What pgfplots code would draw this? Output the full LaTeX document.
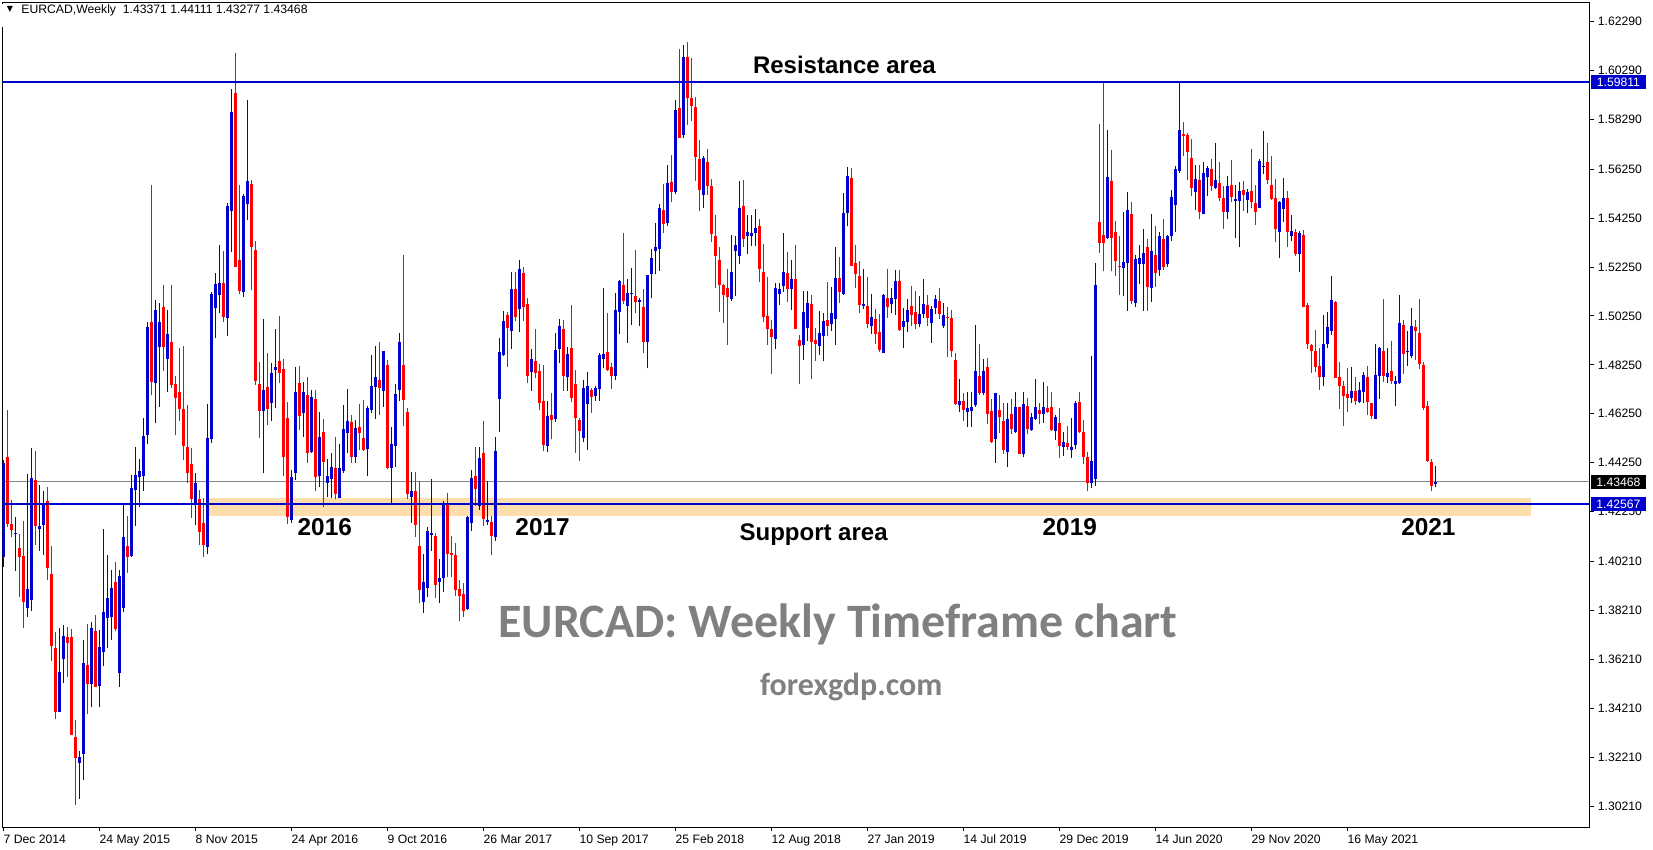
\documentclass[border=0pt]{standalone}
\usepackage{pgfplots}
\pgfplotsset{compat=1.18}
\usepackage{pgfplotstable}
\usepackage{fontspec}
\setmainfont{Liberation Sans}
\newfontfamily\carlito{Carlito}
\newfontfamily\dejavu{DejaVu Sans}
\definecolor{cblue}{RGB}{0,0,204}
\definecolor{cred}{RGB}{255,0,0}
\definecolor{band}{RGB}{255,222,173}
\definecolor{pline}{RGB}{128,138,148}
\definecolor{wm}{RGB}{128,128,128}
\newcommand\sm{\fontsize{6.1}{7}\selectfont}

% weekly EURCAD candles, i = week number from 7 Dec 2014
\pgfplotstableread{
i o h l c
0 1.4041 1.4436 1.4000 1.4425
1 1.4447 1.4640 1.4163 1.4174
2 1.4174 1.4272 1.4120 1.4150
3 1.4133 1.4204 1.3983 1.4139
4 1.4076 1.4133 1.3877 1.4041
5 1.4043 1.4186 1.3748 1.3857
6 1.3832 1.4379 1.3795 1.3907
7 1.3863 1.4484 1.3820 1.4361
8 1.4354 1.4474 1.4090 1.4166
9 1.4155 1.4332 1.4065 1.4166
10 1.4170 1.4309 1.4047 1.4251
11 1.4267 1.4324 1.3945 1.3996
12 1.3972 1.4084 1.3615 1.3677
13 1.3666 1.3731 1.3377 1.3407
14 1.3407 1.3748 1.3407 1.3570
15 1.3621 1.3761 1.3523 1.3718
16 1.3714 1.3754 1.3550 1.3689
17 1.3711 1.3744 1.3313 1.3313
18 1.3302 1.3373 1.3025 1.3219
19 1.3198 1.3247 1.3052 1.3223
20 1.3236 1.3700 1.3127 1.3608
21 1.3598 1.3764 1.3396 1.3519
22 1.3519 1.3772 1.3425 1.3748
23 1.3738 1.3801 1.3509 1.3509
24 1.3513 1.3741 1.3425 1.3673
25 1.3652 1.4156 1.3595 1.3813
26 1.3791 1.4047 1.3666 1.3872
27 1.3795 1.3986 1.3700 1.3913
28 1.3937 1.4019 1.3735 1.3746
29 1.3566 1.3986 1.3509 1.3962
30 1.3832 1.4252 1.3816 1.4120
31 1.4084 1.4207 1.3975 1.4041
32 1.4043 1.4375 1.4041 1.4320
33 1.4313 1.4488 1.4166 1.4375
34 1.4365 1.4441 1.4245 1.4390
35 1.4370 1.4608 1.4310 1.4534
36 1.4538 1.5000 1.4500 1.4980
37 1.5000 1.5560 1.4700 1.4756
38 1.4750 1.5090 1.4586 1.5050
39 1.4900 1.5080 1.4654 1.5000
40 1.5060 1.5150 1.4800 1.4900
41 1.4850 1.5050 1.4715 1.4950
42 1.4920 1.5151 1.4729 1.4742
43 1.4746 1.4779 1.4538 1.4690
44 1.4715 1.4896 1.4595 1.4643
45 1.4644 1.4903 1.4438 1.4493
46 1.4490 1.4661 1.4340 1.4384
47 1.4419 1.4487 1.4200 1.4275
48 1.4261 1.4384 1.4170 1.4340
49 1.4275 1.4313 1.4090 1.4140
50 1.4180 1.4279 1.4040 1.4090
51 1.4080 1.4667 1.4050 1.4524
52 1.4521 1.5121 1.4504 1.5114
53 1.5056 1.5199 1.4936 1.5155
54 1.5110 1.5315 1.5038 1.5161
55 1.5158 1.5292 1.5001 1.5019
56 1.5015 1.5488 1.4944 1.5474
57 1.5455 1.5953 1.5288 1.5860
58 1.5938 1.6101 1.5226 1.5226
59 1.5253 1.5560 1.5114 1.5128
60 1.5121 1.5523 1.5104 1.5516
61 1.5481 1.5908 1.5417 1.5576
62 1.5564 1.5581 1.5131 1.5308
63 1.5294 1.5331 1.4742 1.4760
64 1.4746 1.4838 1.4524 1.4637
65 1.4637 1.5012 1.4381 1.4722
66 1.4733 1.4875 1.4579 1.4644
67 1.4670 1.4834 1.4596 1.4793
68 1.4804 1.4971 1.4647 1.4815
69 1.4840 1.5024 1.4752 1.4793
70 1.4808 1.4851 1.4370 1.4449
71 1.4606 1.4674 1.4175 1.4204
72 1.4190 1.4395 1.4180 1.4365
73 1.4381 1.4817 1.4354 1.4715
74 1.4752 1.4821 1.4558 1.4617
75 1.4629 1.4753 1.4531 1.4715
76 1.4701 1.4776 1.4425 1.4463
77 1.4470 1.4722 1.4466 1.4695
78 1.4685 1.4722 1.4310 1.4368
79 1.4372 1.4633 1.4327 1.4531
80 1.4549 1.4603 1.4245 1.4429
81 1.4340 1.4442 1.4286 1.4372
82 1.4357 1.4463 1.4279 1.4408
83 1.4402 1.4531 1.4275 1.4299
84 1.4279 1.4501 1.4279 1.4404
85 1.4392 1.4661 1.4384 1.4562
86 1.4545 1.4726 1.4466 1.4595
87 1.4590 1.4620 1.4422 1.4449
88 1.4449 1.4599 1.4422 1.4565
89 1.4569 1.4667 1.4477 1.4547
90 1.4527 1.4681 1.4474 1.4479
91 1.4480 1.4655 1.4371 1.4648
92 1.4641 1.4866 1.4627 1.4739
93 1.4736 1.4904 1.4604 1.4777
94 1.4763 1.4917 1.4620 1.4732
95 1.4720 1.4883 1.4654 1.4883
96 1.4825 1.4845 1.4398 1.4405
97 1.4405 1.4573 1.4255 1.4502
98 1.4495 1.4746 1.4409 1.4706
99 1.4723 1.4954 1.4679 1.4920
100 1.4825 1.5275 1.4577 1.4682
101 1.4631 1.4648 1.4275 1.4297
102 1.4286 1.4389 1.4180 1.4310
103 1.4310 1.4387 1.4120 1.4171
104 1.4086 1.4352 1.3853 1.3905
105 1.3857 1.4051 1.3812 1.3939
106 1.3914 1.4164 1.3877 1.4146
107 1.4130 1.4359 1.4062 1.4136
108 1.4127 1.4136 1.3871 1.3925
109 1.3939 1.4030 1.3850 1.3952
110 1.3952 1.4270 1.3898 1.4252
111 1.4252 1.4300 1.3959 1.4052
112 1.4057 1.4127 1.3959 1.4048
113 1.4048 1.4096 1.3882 1.3905
114 1.3907 1.3946 1.3778 1.3882
115 1.3888 1.3932 1.3796 1.3820
116 1.3826 1.4207 1.3823 1.4201
117 1.4180 1.4395 1.4147 1.4361
118 1.4371 1.4488 1.4248 1.4316
119 1.4248 1.4491 1.4232 1.4443
120 1.4464 1.4596 1.4166 1.4194
121 1.4184 1.4350 1.4171 1.4191
122 1.4181 1.4207 1.4048 1.4127
123 1.4123 1.4529 1.4106 1.4473
124 1.4686 1.4934 1.4552 1.4877
125 1.4866 1.5046 1.4862 1.5005
126 1.5030 1.5043 1.4817 1.4977
127 1.4965 1.5206 1.4890 1.5134
128 1.5134 1.5206 1.5006 1.5022
129 1.5052 1.5254 1.4960 1.5217
130 1.5199 1.5224 1.5005 1.5060
131 1.5074 1.5097 1.4752 1.4781
132 1.4797 1.4888 1.4719 1.4847
133 1.4841 1.4971 1.4770 1.4793
134 1.4800 1.4828 1.4640 1.4670
135 1.4677 1.4824 1.4474 1.4497
136 1.4493 1.4677 1.4470 1.4616
137 1.4620 1.4708 1.4520 1.4599
138 1.4603 1.4956 1.4593 1.4886
139 1.4890 1.5012 1.4831 1.4984
140 1.4971 1.5008 1.4719 1.4781
141 1.4776 1.4899 1.4719 1.4869
142 1.4892 1.5070 1.4674 1.4691
143 1.4746 1.4804 1.4466 1.4606
144 1.4599 1.4609 1.4433 1.4554
145 1.4528 1.4763 1.4508 1.4729
146 1.4667 1.4797 1.4479 1.4738
147 1.4722 1.4729 1.4629 1.4695
148 1.4699 1.4738 1.4678 1.4731
149 1.4726 1.4872 1.4678 1.4865
150 1.4847 1.5140 1.4811 1.4869
151 1.4876 1.5036 1.4801 1.4804
152 1.4815 1.4831 1.4726 1.4781
153 1.4781 1.5117 1.4763 1.5049
154 1.5042 1.5172 1.4951 1.5168
155 1.5151 1.5365 1.5074 1.5087
156 1.5067 1.5176 1.4916 1.5117
157 1.5115 1.5222 1.4988 1.5119
158 1.5106 1.5294 1.5038 1.5083
159 1.5083 1.5097 1.4985 1.5090
160 1.5063 1.5135 1.4875 1.4920
161 1.4920 1.5192 1.4811 1.5192
162 1.5196 1.5297 1.5097 1.5264
163 1.5292 1.5406 1.5195 1.5305
164 1.5297 1.5483 1.5210 1.5465
165 1.5458 1.5564 1.5365 1.5403
166 1.5406 1.5642 1.5393 1.5567
167 1.5571 1.5683 1.5492 1.5533
168 1.5530 1.5910 1.5522 1.5867
169 1.5874 1.6116 1.5751 1.5754
170 1.5765 1.6133 1.5751 1.6082
171 1.6082 1.6144 1.5806 1.5917
172 1.5915 1.6078 1.5823 1.5885
173 1.5878 1.5921 1.5577 1.5676
174 1.5665 1.5744 1.5455 1.5540
175 1.5520 1.5677 1.5466 1.5670
176 1.5655 1.5708 1.5520 1.5558
177 1.5557 1.5584 1.5329 1.5361
178 1.5352 1.5438 1.5141 1.5272
179 1.5254 1.5309 1.5043 1.5152
180 1.5152 1.5156 1.4995 1.5111
181 1.5140 1.5218 1.4907 1.5104
182 1.5095 1.5357 1.5088 1.5205
183 1.5291 1.5352 1.5108 1.5316
184 1.5272 1.5577 1.5238 1.5466
185 1.5475 1.5581 1.5306 1.5339
186 1.5350 1.5438 1.5279 1.5367
187 1.5352 1.5438 1.5312 1.5363
188 1.5363 1.5463 1.5312 1.5384
189 1.5393 1.5422 1.5162 1.5218
190 1.5205 1.5320 1.5000 1.5019
191 1.5025 1.5186 1.4907 1.4972
192 1.4972 1.5009 1.4788 1.4937
193 1.4931 1.5159 1.4890 1.5141
194 1.5115 1.5159 1.5070 1.5136
195 1.5148 1.5363 1.5125 1.5205
196 1.5200 1.5288 1.5084 1.5136
197 1.5136 1.5254 1.5050 1.5175
198 1.5177 1.5314 1.4972 1.4972
199 1.4927 1.4948 1.4746 1.4904
200 1.4907 1.5128 1.4845 1.5040
201 1.4975 1.5128 1.4923 1.5077
202 1.5074 1.5111 1.4768 1.4920
203 1.4927 1.4975 1.4839 1.4911
204 1.4904 1.5046 1.4866 1.4954
205 1.4945 1.5039 1.4839 1.5005
206 1.5009 1.5163 1.4945 1.4982
207 1.4991 1.5145 1.4965 1.5036
208 1.5013 1.5305 1.4907 1.5182
209 1.5182 1.5268 1.5077 1.5125
210 1.5115 1.5527 1.5111 1.5448
211 1.5448 1.5636 1.5391 1.5598
212 1.5591 1.5632 1.5231 1.5231
213 1.5243 1.5316 1.5141 1.5197
214 1.5189 1.5248 1.5036 1.5068
215 1.5064 1.5218 1.5053 1.5074
216 1.5066 1.5186 1.4975 1.4993
217 1.4982 1.5115 1.4950 1.5020
218 1.5013 1.5054 1.4911 1.4952
219 1.4959 1.5034 1.4877 1.4884
220 1.4873 1.5115 1.4873 1.5111
221 1.5100 1.5218 1.5018 1.5063
222 1.5073 1.5138 1.5036 1.5097
223 1.5095 1.5211 1.5029 1.5168
224 1.5166 1.5211 1.4965 1.4968
225 1.4978 1.5057 1.4896 1.5005
226 1.5002 1.5095 1.4961 1.5050
227 1.5066 1.5148 1.4982 1.5029
228 1.5040 1.5127 1.4971 1.4992
229 1.4991 1.5107 1.4978 1.5032
230 1.5033 1.5177 1.5016 1.5074
231 1.5070 1.5111 1.4986 1.5016
232 1.4998 1.5067 1.4916 1.5054
233 1.5057 1.5111 1.5032 1.5095
234 1.5087 1.5138 1.5013 1.5033
235 1.4986 1.5080 1.4975 1.5027
236 1.5022 1.5063 1.4856 1.5018
237 1.5018 1.5050 1.4856 1.4883
238 1.4845 1.4875 1.4661 1.4665
239 1.4659 1.4768 1.4631 1.4679
240 1.4679 1.4709 1.4597 1.4641
241 1.4631 1.4713 1.4569 1.4648
242 1.4638 1.4713 1.4573 1.4654
243 1.4661 1.4988 1.4654 1.4798
244 1.4781 1.4911 1.4702 1.4709
245 1.4709 1.4848 1.4700 1.4800
246 1.4818 1.4855 1.4584 1.4625
247 1.4638 1.4686 1.4505 1.4511
248 1.4521 1.4712 1.4425 1.4709
249 1.4641 1.4702 1.4548 1.4610
250 1.4596 1.4668 1.4461 1.4475
251 1.4470 1.4671 1.4406 1.4604
252 1.4625 1.4686 1.4541 1.4562
253 1.4552 1.4713 1.4545 1.4654
254 1.4654 1.4654 1.4460 1.4460
255 1.4461 1.4713 1.4447 1.4664
256 1.4657 1.4689 1.4543 1.4563
257 1.4559 1.4630 1.4555 1.4610
258 1.4603 1.4768 1.4600 1.4654
259 1.4641 1.4671 1.4582 1.4623
260 1.4625 1.4754 1.4589 1.4654
261 1.4650 1.4739 1.4627 1.4634
262 1.4652 1.4713 1.4555 1.4559
263 1.4556 1.4620 1.4518 1.4611
264 1.4589 1.4648 1.4443 1.4495
265 1.4491 1.4550 1.4454 1.4509
266 1.4505 1.4575 1.4475 1.4488
267 1.4475 1.4607 1.4446 1.4491
268 1.4498 1.4679 1.4480 1.4668
269 1.4672 1.4713 1.4545 1.4550
270 1.4550 1.4600 1.4420 1.4450
271 1.4450 1.4470 1.4310 1.4340
272 1.4340 1.4862 1.4320 1.4430
273 1.4360 1.5243 1.4330 1.5152
274 1.5408 1.5810 1.5281 1.5322
275 1.5356 1.5986 1.5207 1.5322
276 1.5343 1.5786 1.5340 1.5592
277 1.5577 1.5704 1.5207 1.5345
278 1.5367 1.5414 1.5190 1.5251
279 1.5231 1.5350 1.5111 1.5227
280 1.5220 1.5452 1.5108 1.5247
281 1.5241 1.5530 1.5047 1.5459
282 1.5442 1.5489 1.5073 1.5088
283 1.5077 1.5275 1.5061 1.5257
284 1.5238 1.5316 1.5156 1.5261
285 1.5238 1.5381 1.5047 1.5281
286 1.5305 1.5340 1.5047 1.5145
287 1.5141 1.5442 1.5084 1.5291
288 1.5275 1.5391 1.5145 1.5200
289 1.5211 1.5370 1.5189 1.5352
290 1.5340 1.5422 1.5211 1.5227
291 1.5236 1.5356 1.5227 1.5352
292 1.5350 1.5540 1.5333 1.5513
293 1.5479 1.5639 1.5370 1.5626
294 1.5619 1.5979 1.5611 1.5786
295 1.5769 1.5820 1.5677 1.5761
296 1.5765 1.5775 1.5579 1.5697
297 1.5670 1.5749 1.5516 1.5550
298 1.5530 1.5643 1.5459 1.5585
299 1.5581 1.5643 1.5420 1.5452
300 1.5442 1.5656 1.5442 1.5609
301 1.5592 1.5639 1.5516 1.5629
302 1.5626 1.5667 1.5534 1.5558
303 1.5550 1.5731 1.5545 1.5581
304 1.5568 1.5656 1.5495 1.5506
305 1.5506 1.5558 1.5381 1.5452
306 1.5449 1.5598 1.5420 1.5558
307 1.5561 1.5663 1.5493 1.5513
308 1.5497 1.5561 1.5345 1.5504
309 1.5497 1.5572 1.5305 1.5536
310 1.5540 1.5577 1.5456 1.5520
311 1.5500 1.5545 1.5445 1.5531
312 1.5536 1.5708 1.5465 1.5489
313 1.5486 1.5561 1.5395 1.5452
314 1.5468 1.5666 1.5465 1.5659
315 1.5636 1.5782 1.5605 1.5639
316 1.5654 1.5731 1.5564 1.5579
317 1.5561 1.5677 1.5500 1.5504
318 1.5507 1.5584 1.5329 1.5380
319 1.5368 1.5496 1.5261 1.5493
320 1.5463 1.5591 1.5411 1.5507
321 1.5507 1.5537 1.5306 1.5368
322 1.5350 1.5438 1.5332 1.5373
323 1.5368 1.5381 1.5271 1.5279
324 1.5278 1.5373 1.5203 1.5363
325 1.5357 1.5377 1.5060 1.5060
326 1.5070 1.5077 1.4889 1.4910
327 1.4907 1.4911 1.4791 1.4880
328 1.4882 1.4968 1.4795 1.4818
329 1.4821 1.4893 1.4723 1.4777
330 1.4775 1.5030 1.4737 1.4910
331 1.4910 1.5040 1.4893 1.4979
332 1.4965 1.5189 1.4948 1.5091
333 1.5081 1.5087 1.4773 1.4773
334 1.4775 1.4836 1.4644 1.4739
335 1.4737 1.4761 1.4577 1.4696
336 1.4706 1.4814 1.4634 1.4689
337 1.4691 1.4816 1.4671 1.4719
338 1.4719 1.4777 1.4659 1.4679
339 1.4675 1.4754 1.4671 1.4723
340 1.4716 1.4794 1.4671 1.4784
341 1.4777 1.4821 1.4621 1.4675
342 1.4668 1.4671 1.4604 1.4618
343 1.4604 1.4911 1.4603 1.4784
344 1.4780 1.4897 1.4685 1.4893
345 1.4882 1.5095 1.4757 1.4781
346 1.4777 1.4896 1.4750 1.4791
347 1.4801 1.4921 1.4746 1.4761
348 1.4747 1.4780 1.4655 1.4760
349 1.4750 1.5111 1.4747 1.4998
350 1.4989 1.5009 1.4787 1.4870
351 1.4876 1.4964 1.4822 1.4878
352 1.4862 1.5057 1.4855 1.4985
353 1.4978 1.5009 1.4843 1.4964
354 1.4957 1.5095 1.4809 1.4828
355 1.4825 1.4835 1.4641 1.4648
356 1.4655 1.4678 1.4427 1.4430
357 1.4426 1.4441 1.4311 1.4330
358 1.43371 1.44111 1.43277 1.43468
}\candles

\begin{document}
\begin{tikzpicture}
\path[use as bounding box] (0,0) rectangle (826.5pt,425pt);
\begin{axis}[
  at={(1.25pt,11.25pt)}, anchor=south west,
  scale only axis, width=793.5pt, height=412.25pt,
  xmin=-0.175, xmax=396.575, ymin=1.29335, ymax=1.63047,
  axis line style={line width=0.5pt, black},
  tick align=outside, major tick length=2pt,
  tick style={black, line width=0.5pt},
  xtick pos=left, ytick pos=right, yticklabel pos=right,
  xtick={0,24,...,336},
  xticklabels={7 Dec 2014,24 May 2015,8 Nov 2015,24 Apr 2016,9 Oct 2016,26 Mar 2017,10 Sep 2017,25 Feb 2018,12 Aug 2018,27 Jan 2019,14 Jul 2019,29 Dec 2019,14 Jun 2020,29 Nov 2020,16 May 2021},
  ytick={1.30210,1.32210,1.34210,1.36210,1.38210,1.40210,1.42250,1.44250,1.46250,1.48250,1.50250,1.52250,1.54250,1.56250,1.58290,1.60290,1.62290},
  yticklabels={1.30210,1.32210,1.34210,1.36210,1.38210,1.40210,1.42250,1.44250,1.46250,1.48250,1.50250,1.52250,1.54250,1.56250,1.58290,1.60290,1.62290},
  ticklabel style={font=\sm, inner sep=0pt},
  xticklabel style={anchor=north west, yshift=-1.5pt},
  yticklabel style={anchor=west, xshift=2pt},
  clip mode=individual,
  candle/.style={forget plot, draw=none, mark=none, restrict y to domain=1:2,
    error bars/.cd, y dir=plus, y explicit, error mark=none,
    error bar style={draw=#1}},
]
% support zone
\addplot[draw=none, fill=band, forget plot] coordinates {(51.2,1.4208) (382,1.4208) (382,1.4279) (51.2,1.4279)} -- cycle;
% current price line
\addplot[pline, line width=0.5pt, forget plot] coordinates {(-1,1.43468) (400,1.43468)};
% wicks
\addplot[candle={cblue, line width=0.5pt}]
  table[x=i, y expr={ifthenelse(\thisrow{c}>=\thisrow{o},\thisrow{l},5)}, y error plus expr={\thisrow{h}-\thisrow{l}}] {\candles};
\addplot[candle={cred, line width=0.5pt}]
  table[x=i, y expr={ifthenelse(\thisrow{c}<\thisrow{o},\thisrow{l},5)}, y error plus expr={\thisrow{h}-\thisrow{l}}] {\candles};
% bodies
\addplot[candle={cblue, line width=1.5pt}]
  table[x=i, y expr={ifthenelse(\thisrow{c}>=\thisrow{o},\thisrow{o},5)}, y error plus expr={max(\thisrow{c}-\thisrow{o},0.0004)}] {\candles};
\addplot[candle={cred, line width=1.5pt}]
  table[x=i, y expr={ifthenelse(\thisrow{c}<\thisrow{o},\thisrow{c},5)}, y error plus expr={max(\thisrow{o}-\thisrow{c},0.0004)}] {\candles};
% resistance and support lines
\addplot[cblue, line width=1.1pt, forget plot] coordinates {(-1,1.59811) (400,1.59811)};
\addplot[cblue, line width=1.1pt, forget plot] coordinates {(-1,1.42567) (400,1.42567)};
\coordinate (bR) at (axis cs:396.575,1.59811);
\coordinate (bP) at (axis cs:396.575,1.43468);
\coordinate (bS) at (axis cs:396.575,1.42567);
\end{axis}
% price boxes on the scale
\node[anchor=west, fill=cblue, text=white, font=\sm, inner xsep=0pt, inner ysep=0pt, minimum width=27.5pt, minimum height=7pt, xshift=0.5pt] at (bR) {1.59811};
\node[anchor=west, fill=black, text=white, font=\sm, inner xsep=0pt, inner ysep=0pt, minimum width=27.5pt, minimum height=7pt, xshift=0.5pt] at (bP) {1.43468};
\node[anchor=west, fill=cblue, text=white, font=\sm, inner xsep=0pt, inner ysep=0pt, minimum width=27.5pt, minimum height=7pt, xshift=0.5pt] at (bS) {1.42567};
% header
\fill[white] (0,411.5pt) rectangle (165pt,423pt);
\node[font=\dejavu\fontsize{4}{4}\selectfont, inner sep=0pt] at (5pt,420.3pt) {▼};
\node[anchor=west, font=\sm, inner sep=0pt] at (10.5pt,420pt) {EURCAD,Weekly\ \ 1.43371 1.44111 1.43277 1.43468};
% annotations
\node[font=\bfseries\fontsize{12}{14}\selectfont] at (422.2pt,392.3pt) {Resistance area};
\node[font=\bfseries\fontsize{12}{14}\selectfont] at (406.8pt,157.75pt) {Support area};
\node[font=\bfseries\fontsize{12.2}{14}\selectfont] at (162.4pt,161.5pt) {2016};
\node[font=\bfseries\fontsize{12.2}{14}\selectfont] at (271.3pt,161.5pt) {2017};
\node[font=\bfseries\fontsize{12.2}{14}\selectfont] at (534.9pt,161.5pt) {2019};
\node[font=\bfseries\fontsize{12.2}{14}\selectfont] at (714.2pt,161.5pt) {2021};
\node[text=wm, font=\carlito\bfseries\fontsize{24}{28}\selectfont] at (419pt,113pt) {EURCAD: Weekly Timeframe chart};
\node[text=wm, font=\carlito\bfseries\fontsize{16}{19}\selectfont] at (425.6pt,81.3pt) {forexgdp.com};
\end{tikzpicture}
\end{document}
